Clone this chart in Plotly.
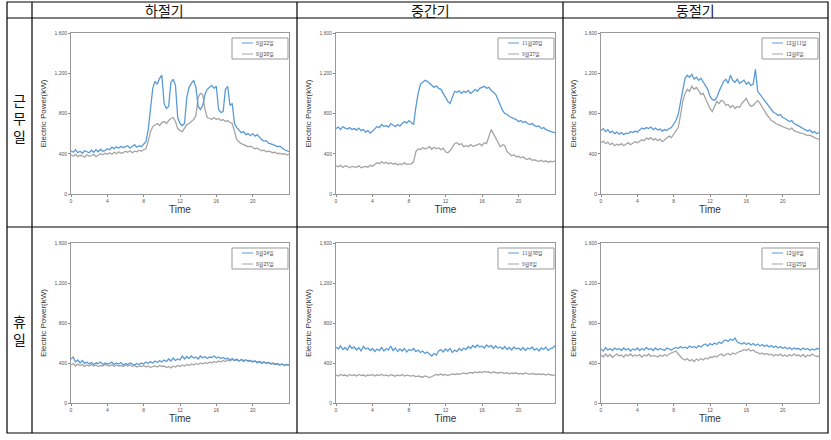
import numpy as np
import plotly.graph_objects as go

W, H = 831, 440

seasons = ['하절기', '중간기', '동절기']
day_types = ['근무일', '휴일']
y_ticks = [0, 400, 800, 1200, 1600]
x_ticks = [0, 4, 8, 12, 16, 20]

# 15-minute samples, 00:00 .. 24:00 (97 points each)
summer_work_a = [430, 415, 440, 410, 425, 405, 430, 420, 410,
                 435, 415, 440, 420, 445, 425, 430, 450,
                 440, 465, 450, 470, 455, 475, 460, 470,
                 480, 455, 470, 490, 465, 480, 470, 495,
                 520, 640, 880, 1050, 1120, 1090, 1150, 1180,
                 900, 850, 870, 1110, 1140, 1080, 760, 700,
                 680, 700, 960, 1060, 1100, 1130, 1060, 870,
                 840, 880, 990, 1040, 1060, 1080, 1050, 1070,
                 840, 810, 820, 1040, 1070, 880, 900, 700,
                 660, 630, 610, 620, 590, 600, 580, 600,
                 575, 590, 560, 540, 525, 530, 505, 500,
                 490, 480, 470, 475, 455, 440, 430, 420]
summer_work_b = [390, 375, 395, 370, 385, 380, 365, 390, 375,
                 380, 395, 370, 385, 400, 390, 405, 395,
                 410, 395, 415, 400, 420, 405, 410, 425,
                 415, 430, 410, 425, 420, 435, 425, 440,
                 450, 520, 620, 670, 690, 700, 680, 710,
                 720, 700, 730, 750, 760, 720, 650, 630,
                 620, 650, 690, 700, 720, 740, 780, 960,
                 1000, 990, 840, 760, 750, 740, 760, 740,
                 750, 730, 740, 720, 730, 710, 700, 620,
                 540, 520, 500, 490, 480, 470, 475, 460,
                 450, 455, 440, 430, 435, 420, 425, 415,
                 410, 415, 400, 405, 395, 400, 390, 395]

mid_work_a = [650, 665, 640, 670, 655, 645, 660, 640, 650,
              635, 655, 630, 640, 615, 630, 605, 625,
              645, 670, 660, 690, 670, 680, 665, 700,
              685, 670, 690, 675, 700, 720, 705, 730,
              710, 690, 860, 1000, 1090, 1110, 1130, 1120,
              1100, 1080, 1060, 1075, 1050, 1040, 1000, 970,
              920, 900, 960, 1020, 1010, 1025, 1000, 1020,
              1010, 1030, 1000, 1015, 1040, 1020, 1050, 1060,
              1070, 1050, 1060, 1030, 1010, 990, 940, 880,
              830, 800, 790, 770, 760, 750, 740, 720,
              730, 710, 720, 700, 690, 700, 680, 670,
              675, 650, 660, 640, 630, 625, 615, 610]
mid_work_b = [280, 270, 285, 265, 280, 275, 260, 275, 270,
              265, 280, 260, 270, 275, 265, 285, 275,
              295, 310, 300, 320, 305, 315, 300, 310,
              295, 305, 290, 300, 295, 310, 295, 300,
              300, 320, 420, 450, 440, 460, 450, 455,
              470, 445, 465, 450, 460, 440, 455, 420,
              410, 430, 470, 500, 510, 490, 500, 470,
              480, 470, 490, 475, 480, 490, 500, 480,
              510, 500, 560, 640, 600, 560, 510, 470,
              490, 480, 420, 400, 380, 390, 370, 375,
              360, 370, 350, 345, 355, 335, 340, 330,
              325, 335, 320, 330, 315, 325, 320, 330]

winter_work_a = [630, 650, 620, 640, 610, 625, 600, 615, 595,
                 610, 590, 605, 600, 620, 610, 625, 615,
                 640, 655, 645, 660, 650, 665, 640, 655,
                 635, 645, 625, 640, 630, 650, 660, 690,
                 730, 790, 920, 1060, 1150, 1180, 1160, 1190,
                 1140, 1160, 1130, 1150, 1110, 1080, 1040, 970,
                 940, 930, 960, 1020, 1080, 1120, 1140, 1100,
                 1180, 1130, 1110, 1140, 1100, 1120, 1130, 1090,
                 1110, 1080, 1090, 1240, 1020, 990, 960, 930,
                 890, 860, 840, 810, 800, 780, 790, 760,
                 750, 735, 720, 730, 700, 690, 680, 665,
                 650, 640, 625, 635, 610, 620, 600, 610]
winter_work_b = [510, 525, 500, 515, 490, 505, 480, 495, 485,
                 500, 480, 495, 510, 490, 505, 520, 510,
                 525, 540, 530, 555, 545, 560, 535, 550,
                 530, 545, 520, 540, 560, 575, 560, 590,
                 620, 660, 780, 920, 1000, 1040, 1020, 1070,
                 1040, 1060, 1030, 990, 1000, 950, 900, 850,
                 820, 870, 920, 900, 930, 920, 880, 890,
                 860, 880, 850, 870, 860, 900, 930, 950,
                 900, 870, 880, 910, 930, 900, 860, 830,
                 790, 760, 730, 720, 700, 690, 680, 670,
                 660, 650, 640, 655, 630, 620, 610, 605,
                 600, 590, 580, 585, 570, 560, 550, 545]

summer_off_a = [440, 460, 410, 430, 400, 425, 395, 410, 390,
                405, 385, 400, 395, 410, 385, 400, 390,
                395, 410, 385, 400, 390, 405, 380, 395,
                385, 400, 390, 380, 395, 385, 400, 390,
                410, 395, 415, 400, 420, 405, 425, 410,
                430, 415, 440, 420, 450, 425, 440, 430,
                470, 440, 465, 445, 470, 450, 460, 440,
                470, 450, 465, 445, 460, 455, 470, 450,
                460, 445, 455, 440, 450, 430, 445, 425,
                440, 420, 435, 415, 430, 420, 425, 410,
                420, 400, 415, 395, 410, 395, 405, 390,
                400, 385, 395, 380, 390, 375, 385, 380]
summer_off_b = [380, 395, 370, 390, 375, 385, 365, 380, 370,
                385, 370, 380, 365, 375, 370, 385, 375,
                370, 385, 365, 380, 370, 375, 365, 380,
                370, 380, 365, 375, 360, 370, 365, 375,
                360, 370, 355, 365, 370, 360, 375, 365,
                370, 355, 365, 350, 370, 360, 375, 365,
                380, 370, 385, 375, 390, 380, 395, 385,
                400, 390, 405, 395, 410, 400, 415, 405,
                420, 410, 425, 415, 430, 420, 435, 425,
                430, 420, 435, 425, 430, 420, 425, 415,
                420, 410, 415, 405, 410, 400, 405, 395,
                395, 390, 385, 380, 390, 375, 385, 380]

mid_off_a = [560, 540, 570, 535, 555, 530, 575, 545, 560,
             530, 555, 520, 565, 540, 550, 525, 545,
             515, 540, 525, 555, 520, 545, 530, 570,
             525, 550, 515, 540, 520, 545, 510, 535,
             525, 545, 515, 530, 505, 520, 495, 510,
             485, 470, 495, 480, 520, 535, 510, 540,
             520, 545, 505, 530, 515, 545, 525, 550,
             535, 565, 545, 575, 555, 580, 560, 570,
             550, 580, 560, 575, 545, 570, 550, 560,
             540, 565, 535, 555, 530, 560, 540, 550,
             530, 555, 525, 550, 540, 560, 530, 545,
             520, 550, 535, 560, 525, 545, 550, 575]
mid_off_b = [280, 270, 285, 275, 280, 268, 285, 275, 282,
             270, 285, 275, 280, 268, 282, 275, 285,
             270, 282, 275, 288, 272, 280, 270, 283,
             275, 268, 280, 272, 285, 270, 278, 272,
             268, 275, 262, 270, 265, 258, 270, 262,
             255, 265, 275, 285, 280, 290, 278, 285,
             275, 282, 290, 285, 292, 286, 295, 300,
             292, 300, 305, 298, 310, 302, 312, 305,
             315, 308, 312, 300, 310, 305, 298, 308,
             300, 295, 305, 290, 300, 295, 302, 290,
             296, 288, 300, 292, 286, 295, 290, 285,
             292, 285, 290, 280, 288, 282, 275, 285]

winter_off_a = [540, 520, 555, 530, 545, 525, 550, 535, 545,
                525, 550, 530, 545, 520, 540, 530, 550,
                525, 545, 530, 555, 535, 545, 525, 550,
                530, 545, 535, 525, 550, 540, 530, 545,
                555, 545, 565, 550, 560, 545, 570, 555,
                565, 550, 575, 560, 580, 590, 570, 595,
                580, 600, 585, 610, 595, 620, 630, 615,
                640, 625, 650, 610, 600, 590, 605, 585,
                600, 580, 595, 575, 590, 570, 585, 565,
                580, 560, 575, 555, 570, 550, 565, 545,
                560, 540, 555, 535, 550, 540, 545, 530,
                550, 535, 545, 525, 540, 530, 545, 540]
winter_off_b = [480, 460, 490, 465, 485, 455, 475, 490, 470,
                480, 460, 485, 470, 490, 465, 480, 470,
                485, 460, 480, 470, 490, 465, 475, 470,
                460, 480, 465, 485, 470, 490, 500, 515,
                520, 490, 460, 440, 430, 445, 420, 435,
                415, 440, 425, 445, 430, 450, 440, 460,
                455, 470, 460, 480, 490, 470, 485, 495,
                480, 500, 490, 505, 515, 520, 535, 525,
                540, 520, 530, 510, 505, 490, 500, 485,
                495, 480, 490, 470, 485, 475, 490, 470,
                480, 465, 485, 470, 490, 475, 480, 465,
                485, 460, 480, 470, 490, 475, 465, 470]

panels = [
    (summer_work_a, summer_work_b, '8월22일', '8월20일'),
    (mid_work_a, mid_work_b, '11월20일', '9월27일'),
    (winter_work_a, winter_work_b, '12월11일', '12월6일'),
    (summer_off_a, summer_off_b, '8월24일', '8월25일'),
    (mid_off_a, mid_off_b, '11월30일', '9월8일'),
    (winter_off_a, winter_off_b, '12월8일', '12월25일'),
]

BLUE = '#5B9BD5'
GRAY = '#A5A5A5'


def fx(x):
    return x / W


def fy(y):
    return 1 - y / H


# plot areas in pixels (left, right) / (top, bottom)
col_px = [(71, 289), (336, 555), (601, 819)]
row_px = [(33, 194), (243, 403)]

fig = go.Figure()
layout = {}
shapes = []
annotations = []

for k, (a, b, la, lb) in enumerate(panels):
    r, c = divmod(k, 3)
    n = k + 1
    sfx = '' if n == 1 else str(n)
    t = np.linspace(0, 24, len(a))
    fig.add_trace(go.Scatter(x=t, y=b, mode='lines', name=lb,
                             line=dict(color=GRAY, width=1.3),
                             xaxis='x' + sfx, yaxis='y' + sfx))
    fig.add_trace(go.Scatter(x=t, y=a, mode='lines', name=la,
                             line=dict(color=BLUE, width=1.3),
                             xaxis='x' + sfx, yaxis='y' + sfx))
    x0, x1 = col_px[c]
    y0, y1 = row_px[r]
    layout['xaxis' + sfx] = dict(
        domain=[fx(x0), fx(x1)], range=[0, 24], anchor='y' + sfx,
        tickvals=x_ticks, ticks='outside', ticklen=2, tickcolor='#888',
        showgrid=False, zeroline=False, showline=True, linecolor='#999',
        linewidth=1, mirror=True, tickfont=dict(size=5, color='#555'),
        title=dict(text='Time', font=dict(size=10, color='#333'), standoff=1),
        automargin=False)
    layout['yaxis' + sfx] = dict(
        domain=[fy(y1), fy(y0)], range=[0, 1600], anchor='x' + sfx,
        tickvals=y_ticks, tickformat=',', ticks='outside', ticklen=2,
        tickcolor='#888', showgrid=False, zeroline=False, showline=True,
        linecolor='#999', linewidth=1, mirror=True,
        tickfont=dict(size=5, color='#555'),
        title=dict(text='Electric Power(kW)', font=dict(size=8, color='#333'),
                   standoff=6),
        automargin=False)

    # small Excel-style legend box
    bx1 = x1 - 1
    bx0 = bx1 - 56
    shapes.append(dict(type='rect', xref='paper', yref='paper',
                       x0=fx(bx0), x1=fx(bx1), y0=fy(y0 + 26), y1=fy(y0 + 5),
                       line=dict(color='#999', width=1), fillcolor='white'))
    for j, (lab, col) in enumerate([(la, BLUE), (lb, GRAY)]):
        yy = y0 + 10 + 11 * j
        shapes.append(dict(type='line', xref='paper', yref='paper',
                           x0=fx(bx0 + 10), x1=fx(bx0 + 21),
                           y0=fy(yy), y1=fy(yy),
                           line=dict(color=col, width=1)))
        annotations.append(dict(text=lab, x=fx(bx0 + 22), y=fy(yy),
                                xref='paper', yref='paper', xanchor='left',
                                yanchor='middle', showarrow=False,
                                font=dict(size=5, color='#444',
                                          family='Noto Sans CJK KR')))

# table grid
line = dict(color='black', width=1.2)
shapes.append(dict(type='rect', xref='paper', yref='paper', x0=fx(7),
                   x1=fx(828), y0=fy(433), y1=fy(2), line=line))
for xv in (32, 297, 563):
    shapes.append(dict(type='line', xref='paper', yref='paper', x0=fx(xv),
                       x1=fx(xv), y0=fy(433), y1=fy(2), line=line))
for yv in (18, 227):
    shapes.append(dict(type='line', xref='paper', yref='paper', x0=fx(7),
                       x1=fx(828), y0=fy(yv), y1=fy(yv), line=line))

for i, s in enumerate(seasons):
    xc = [(32 + 297) / 2, (297 + 563) / 2, (563 + 828) / 2][i]
    annotations.append(dict(text=s, x=fx(xc), y=fy(10), xref='paper',
                            yref='paper', xanchor='center', yanchor='middle',
                            showarrow=False,
                            font=dict(size=14, color='#111',
                                      family='Noto Sans CJK KR')))
for i, d in enumerate(day_types):
    yc = [118, 330][i]
    annotations.append(dict(text='<br>'.join(d), x=fx(19), y=fy(yc),
                            xref='paper', yref='paper', xanchor='center',
                            yanchor='middle', showarrow=False,
                            font=dict(size=14, color='#111',
                                      family='Noto Sans CJK KR')))

fig.update_layout(
    width=W, height=H, margin=dict(l=0, r=0, t=0, b=0),
    paper_bgcolor='white', plot_bgcolor='white', showlegend=False,
    font=dict(family='Liberation Sans'),
    shapes=shapes, annotations=annotations, **layout)

fig.write_html("out.html", config={'displayModeBar': False},
               post_script="document.body.style.margin='0';")
